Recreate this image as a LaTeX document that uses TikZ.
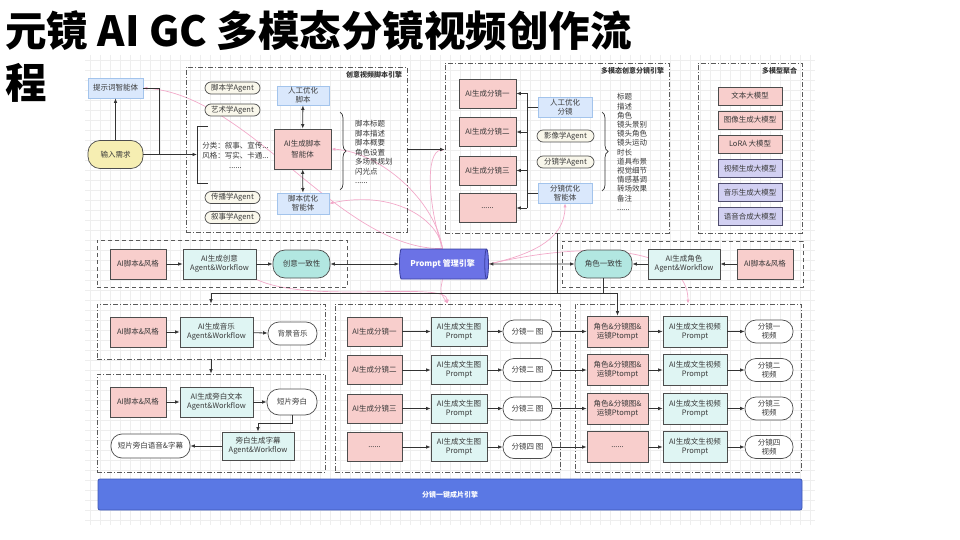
\documentclass[tikz,border=0pt]{standalone}
\usepackage{fontspec}
\setmainfont{Noto Sans CJK SC}
\usetikzlibrary{arrows.meta,calc,decorations.pathreplacing,positioning,shapes.geometric}
\pgfdeclarelayer{background}
\pgfsetlayers{background,main}
\definecolor{ink}{HTML}{333333}
\definecolor{txt}{HTML}{3A3A3A}
\definecolor{edge}{HTML}{4D4D4D}
\definecolor{grpedge}{HTML}{5A5A5A}
\definecolor{gridcol}{HTML}{EEEEEE}
\definecolor{pinkfill}{HTML}{F8CECC}
\definecolor{bluefill}{HTML}{DAE8FC}
\definecolor{blueedge}{HTML}{A3C4EC}
\definecolor{cyanfill}{HTML}{DFF5F3}
\definecolor{tealfill}{HTML}{B2E7E1}
\definecolor{creamfill}{HTML}{F9F7EB}
\definecolor{yellowfill}{HTML}{F6EEB2}
\definecolor{purplefill}{HTML}{D2D0F2}
\definecolor{purpleedge}{HTML}{4F4D6E}
\definecolor{hubfill}{HTML}{6B72E6}
\definecolor{hubedge}{HTML}{3A3F9E}
\definecolor{barfill}{HTML}{5A78E4}
\definecolor{baredge}{HTML}{3F58B4}
\definecolor{pinkline}{HTML}{F2A9C9}
\tikzset{
  font=\fontsize{7.5}{9}\selectfont,
  flow/.style={
    -{Latex[length=4.5pt,width=3.6pt]},
    draw=ink,
    line width=0.8pt
  },
  twoway/.style={
    flow,
    {Latex[length=4.5pt,width=3.6pt]}-{Latex[length=4.5pt,width=3.6pt]}
  },
  wire/.style={draw=ink, line width=0.8pt},
  promptflow/.style={
    -{Latex[length=4pt,width=3.2pt]},
    draw=pinkline,
    line width=0.7pt
  },
  grid_lines/.style={draw=gridcol, line width=0.4pt},
  block/.style={
    rectangle,
    draw=edge,
    line width=0.7pt,
    text=txt,
    align=center,
    inner sep=1pt,
    minimum width=56pt,
    minimum height=30pt
  },
  pink_block/.style={block, fill=pinkfill},
  blue_block/.style={block, fill=bluefill, draw=blueedge, minimum width=54pt, minimum height=20pt},
  flow_block/.style={block, fill=cyanfill, minimum width=73pt},
  model_block/.style={block, fill=pinkfill, minimum width=64pt, minimum height=18pt},
  video_model/.style={model_block, fill=purplefill, draw=purpleedge},
  pill/.style={block, rounded corners=11pt, fill=white, minimum width=49pt, minimum height=23pt},
  agent_pill/.style={block, rounded corners=6pt, fill=creamfill, minimum width=55pt, minimum height=12pt},
  keep_block/.style={block, rounded corners=12pt, fill=tealfill, minimum width=57pt, minimum height=28pt},
  hub/.style={
    cylinder,
    shape border rotate=0,
    aspect=0.35,
    draw=hubedge,
    fill=hubfill,
    line width=0.8pt,
    minimum height=89pt,
    minimum width=30pt,
    inner sep=1pt,
    text=white,
    font=\fontsize{8}{9}\selectfont\bfseries
  },
  bar_block/.style={
    rectangle,
    rounded corners=2pt,
    draw=baredge,
    fill=barfill,
    line width=0.8pt,
    text=white,
    font=\fontsize{7}{8}\selectfont\bfseries
  },
  groupbox/.style={
    draw=grpedge,
    line width=0.8pt,
    dash pattern=on 5pt off 2pt on 1pt off 2pt,
    inner sep=0pt
  },
  dashbox/.style={
    draw=grpedge,
    line width=0.8pt,
    dash pattern=on 4pt off 3pt,
    inner sep=0pt
  },
  grouplabel/.style={
    anchor=north east,
    inner sep=1pt,
    text=ink,
    font=\fontsize{7}{8}\selectfont\bfseries
  },
  listtext/.style={
    align=left,
    inner sep=0pt,
    text=txt
  },
  title/.style={
    align=left,
    inner sep=0pt,
    text=black,
    font=\fontsize{41.5}{52}\selectfont\bfseries
  }
}

\begin{document}
\begin{tikzpicture}[x=1pt, y=-1pt]
  \useasboundingbox (0,0) rectangle (960,540);
  \begin{pgfonlayer}{background}
    \draw[grid_lines, step=10pt] (85,525) grid (815,55);
  \end{pgfonlayer}

  \node[title, anchor=north west] (ttl) at (5,10) {元镜 AI GC 多模态分镜视频创作流\\程};

  % requirement input
  \node[blue_block, minimum width=55pt] (tipAgent) at (115.5,88) {提示词智能体};
  \node[block, fill=yellowfill, rounded corners=12pt, minimum width=55pt, minimum height=28pt] (userInput) at (115.5,154.5) {输入需求};

  % script engine
  \node[groupbox, minimum width=221pt, minimum height=165pt] (grpScript) at (296.5,149.5) {};
  \node[grouplabel] (lblScript) at ([xshift=-4pt,yshift=-4pt]grpScript.north east) {创意视频脚本引擎};
  \node[agent_pill] (scriptAgent) at (232.5,88) {脚本学Agent};
  \node[agent_pill] (artAgent) at (232.5,110) {艺术学Agent};
  \node[agent_pill] (spreadAgent) at (232.5,197.5) {传播学Agent};
  \node[agent_pill] (narrAgent) at (232.5,217.5) {叙事学Agent};
  \coordinate (brk) at (197,154.5);
  \draw[wire, line width=0.7pt] (208,126) -- (197,126) -- (197,183) -- (208,183);
  \node[listtext, align=center, font=\fontsize{7.5}{10}\selectfont] (styleOpts) at (235.5,155) {分类：叙事、宣传...\\风格：写实、卡通...\\......};
  \node[blue_block, minimum width=52pt, minimum height=19pt] (manScript) at (303,95.5) {人工优化\\脚本};
  \node[pink_block, minimum width=57pt, minimum height=40pt, font=\fontsize{7.5}{11.5}\selectfont] (genScript) at (302.5,149) {AI生成脚本\\智能体};
  \node[blue_block, minimum width=52pt, minimum height=21pt] (optScript) at (303,203.5) {脚本优化\\智能体};
  \draw[wire, line width=0.7pt, decorate, decoration={brace, amplitude=6pt}] (340,112) -- (340,190);
  \node[listtext, anchor=west, font=\fontsize{7.5}{9.5}\selectfont] (scriptItems) at (355,152) {脚本标题\\脚本描述\\脚本概要\\角色设置\\多场景规划\\闪光点\\......};

  \draw[flow] (userInput) -- (tipAgent);
  \draw[wire] (tipAgent.east) -| ([xshift=16pt]userInput.east);
  \draw[flow] (userInput.east) -- (brk);
  \draw[twoway] (manScript) -- (genScript);
  \draw[twoway] (genScript) -- (optScript);

  % storyboard engine
  \node[groupbox, minimum width=224pt, minimum height=170pt] (grpStory) at (557,148) {};
  \node[grouplabel] (lblStory) at ([xshift=-4pt,yshift=-4pt]grpStory.north east) {多模态创意分镜引擎};
  \node[pink_block, minimum width=57pt, minimum height=29pt] (story1) at (487.5,93.5) {AI生成分镜一};
  \node[pink_block, minimum width=57pt, minimum height=29pt] (story2) at (487.5,132) {AI生成分镜二};
  \node[pink_block, minimum width=57pt, minimum height=29pt] (story3) at (487.5,170.5) {AI生成分镜三};
  \node[pink_block, minimum width=57pt, minimum height=29pt] (story4) at (487.5,208) {......};
  \node[blue_block] (manStory) at (565,107) {人工优化\\分镜};
  \node[agent_pill, minimum width=57pt] (imageAgent) at (565.5,136) {影像学Agent};
  \node[agent_pill, minimum width=57pt] (shotAgent) at (565.5,162) {分镜学Agent};
  \node[blue_block] (optStory) at (565,193) {分镜优化\\智能体};
  \draw[wire, line width=0.7pt, decorate, decoration={brace, amplitude=6pt}] (602,112) -- (602,191);
  \node[listtext, anchor=west, font=\fontsize{7.5}{9.2}\selectfont] (storyItems) at (617,152) {标题\\描述\\角色\\镜头景别\\镜头角色\\镜头运动\\时长\\道具布景\\视觉细节\\情感基调\\转场效果\\备注\\......};

  \coordinate (sbus) at (527,0);
  \draw[wire] (manStory.west) -- (sbus |- manStory.west);
  \draw[wire] (optStory.west) -- (sbus |- optStory.west);
  \draw[wire] (sbus |- story1.east) -- (sbus |- story4.east);
  \foreach \k in {1,...,4}
    \draw[flow] (sbus |- story\k.east) -- (story\k.east);
  \draw[flow] (grpScript.east) -- (grpScript.east -| grpStory.west);

  % model pool
  \node[groupbox, minimum width=104pt, minimum height=170pt] (grpModel) at (750,148) {};
  \node[grouplabel] (lblModel) at ([xshift=-4pt,yshift=-4pt]grpModel.north east) {多模型聚合};
  \node[model_block] (textModel) at (750,96) {文本大模型};
  \node[model_block] (imageModel) at (750,120) {图像生成大模型};
  \node[model_block] (loraModel) at (750,144) {LoRA 大模型};
  \node[video_model] (videoModel) at (750,168.5) {视频生成大模型};
  \node[video_model] (musicModel) at (750,192.5) {音乐生成大模型};
  \node[video_model] (speechModel) at (750,216.5) {语音合成大模型};

  % consistency row
  \node[dashbox, minimum width=250pt, minimum height=47pt] (grpIdea) at (222,263.5) {};
  \node[pink_block] (ideaIn) at (138,264) {AI脚本\&风格};
  \node[flow_block] (ideaFlow) at (219.5,264) {AI生成创意\\Agent\&Workflow};
  \node[keep_block] (ideaKeep) at (301.5,264) {创意一致性};
  \node[hub] (promptHub) at (442.5,264) {Prompt 管理引擎};
  \node[dashbox, minimum width=241pt, minimum height=46pt] (grpRole) at (682.5,264) {};
  \node[keep_block] (roleKeep) at (603.5,264) {角色一致性};
  \node[flow_block, minimum width=72pt] (roleFlow) at (684,264) {AI生成角色\\Agent\&Workflow};
  \node[pink_block] (roleIn) at (765,264) {AI脚本\&风格};

  \draw[flow] (ideaIn) -- (ideaFlow);
  \draw[flow] (ideaFlow) -- (ideaKeep);
  \draw[twoway] (ideaKeep) -- (promptHub);
  \draw[twoway] (promptHub) -- (roleKeep);
  \draw[flow] (roleIn) -- (roleFlow);
  \draw[flow] (roleFlow) -- (roleKeep);

  % music + narration
  \node[groupbox, minimum width=228pt, minimum height=55pt] (grpMusic) at (211,331.5) {};
  \node[pink_block] (musicIn) at (138,332) {AI脚本\&风格};
  \node[flow_block] (musicFlow) at (216.5,332) {AI生成音乐\\Agent\&Workflow};
  \node[pill] (bgMusic) at (292.5,333.5) {背景音乐};
  \node[groupbox, minimum width=228pt, minimum height=98pt] (grpVoice) at (211,423) {};
  \node[pink_block] (voiceIn) at (138,402) {AI脚本\&风格};
  \node[flow_block] (voiceFlow) at (216.5,402) {AI生成旁白文本\\Agent\&Workflow};
  \node[pill, minimum width=50pt, minimum height=26pt, rounded corners=12pt] (voiceText) at (292,402) {短片旁白};
  \node[flow_block, minimum width=72pt, minimum height=28pt] (subFlow) at (258,446) {旁白生成字幕\\Agent\&Workflow};
  \node[pill, minimum width=79pt, minimum height=24pt] (voiceOut) at (150.5,446) {短片旁白语音\&字幕};

  \draw[flow] (musicIn) -- (musicFlow);
  \draw[flow] (musicFlow) -- (bgMusic);
  \draw[flow] (grpMusic) -- (grpVoice);
  \draw[flow] (voiceIn) -- (voiceFlow);
  \draw[flow] (voiceFlow) -- (voiceText);
  \draw[flow] (voiceText.south) -- ++(0,8) -| (subFlow.north);
  \draw[flow] (subFlow) -- (voiceOut);

  % storyboard images
  \node[groupbox, minimum width=225pt, minimum height=168pt] (grpImg) at (447.5,388) {};
  \node[pink_block, minimum width=55pt, minimum height=29pt] (shot1) at (374.5,331.5) {AI生成分镜一};
  \node[pink_block, minimum width=55pt, minimum height=29pt] (shot2) at (374.5,370) {AI生成分镜二};
  \node[pink_block, minimum width=55pt, minimum height=29pt] (shot3) at (374.5,408.5) {AI生成分镜三};
  \node[pink_block, minimum width=55pt, minimum height=29pt] (shot4) at (374.5,447) {......};
  \node[flow_block, minimum width=56pt, minimum height=29pt] (imgPrompt1) at (459,331.5) {AI生成文生图\\Prompt};
  \node[flow_block, minimum width=56pt, minimum height=29pt] (imgPrompt2) at (459,370) {AI生成文生图\\Prompt};
  \node[flow_block, minimum width=56pt, minimum height=29pt] (imgPrompt3) at (459,408.5) {AI生成文生图\\Prompt};
  \node[flow_block, minimum width=56pt, minimum height=29pt] (imgPrompt4) at (459,447) {AI生成文生图\\Prompt};
  \node[pill] (img1) at (527.5,331.5) {分镜一 图};
  \node[pill] (img2) at (527.5,370) {分镜二 图};
  \node[pill] (img3) at (527.5,408.5) {分镜三 图};
  \node[pill] (img4) at (527.5,447) {分镜四 图};

  % storyboard videos
  \node[groupbox, minimum width=226pt, minimum height=168pt] (grpVid) at (688,388) {};
  \node[pink_block, minimum width=61pt, minimum height=31pt] (charImg1) at (617.5,331.5) {角色\&分镜图\&\\运镜Ptompt};
  \node[pink_block, minimum width=61pt, minimum height=31pt] (charImg2) at (617.5,370) {角色\&分镜图\&\\运镜Ptompt};
  \node[pink_block, minimum width=61pt, minimum height=31pt] (charImg3) at (617.5,408.5) {角色\&分镜图\&\\运镜Ptompt};
  \node[pink_block, minimum width=61pt, minimum height=31pt] (charImg4) at (617.5,447) {......};
  \node[flow_block, minimum width=64pt, minimum height=31pt] (vidPrompt1) at (695,331.5) {AI生成文生视频\\Prompt};
  \node[flow_block, minimum width=64pt, minimum height=31pt] (vidPrompt2) at (695,370) {AI生成文生视频\\Prompt};
  \node[flow_block, minimum width=64pt, minimum height=31pt] (vidPrompt3) at (695,408.5) {AI生成文生视频\\Prompt};
  \node[flow_block, minimum width=64pt, minimum height=31pt] (vidPrompt4) at (695,447) {AI生成文生视频\\Prompt};
  \node[pill, minimum width=48pt] (vid1) at (769,331.5) {分镜一\\视频};
  \node[pill, minimum width=48pt] (vid2) at (769,370) {分镜二\\视频};
  \node[pill, minimum width=48pt] (vid3) at (769,408.5) {分镜三\\视频};
  \node[pill, minimum width=48pt] (vid4) at (769,447) {分镜四\\视频};

  \foreach \k in {1,...,4} {
    \draw[flow] (shot\k) -- (imgPrompt\k);
    \draw[flow] (imgPrompt\k) -- (img\k);
    \draw[flow] (img\k) -- (charImg\k);
    \draw[flow] (charImg\k) -- (vidPrompt\k);
    \draw[flow] (vidPrompt\k) -- (vid\k);
  }

  \coordinate (busY) at (0,293);
  \draw[flow] (grpStory.south) -- (grpStory.south |- busY) -| (charImg1.north);
  \draw[flow] (roleKeep.south) -- (roleKeep.south |- busY) -| (grpMusic.north);

  \node[bar_block, minimum width=704pt, minimum height=31pt] (oneClick) at (450,494.5) {分镜一键成片引擎};

  % prompt links, kept behind the boxes
  \begin{pgfonlayer}{background}
    \draw[promptflow] (promptHub.north) .. controls (340,250) and (250,95) .. (tipAgent.east);
    \draw[promptflow] (promptHub.north) .. controls (435,200) and (380,152) .. (genScript.east);
    \draw[promptflow] (promptHub.north) .. controls (438,218) and (392,190) .. (optScript.east);
    \draw[promptflow] (promptHub.north) .. controls (428,205) and (425,152) .. (grpScript.east -| grpStory.west);
    \draw[promptflow] (promptHub.east) .. controls (530,255) and (565,240) .. (optStory.south);
    \draw[promptflow] (promptHub.east) .. controls (600,238) and (688,250) .. (grpVid.north);
    \draw[promptflow] (promptHub.south) .. controls (440,292) .. (grpImg.north);
    \draw[promptflow] (ideaFlow.south east) .. controls (310,305) and (447,280) .. (grpImg.north);
  \end{pgfonlayer}
\end{tikzpicture}
\end{document}
